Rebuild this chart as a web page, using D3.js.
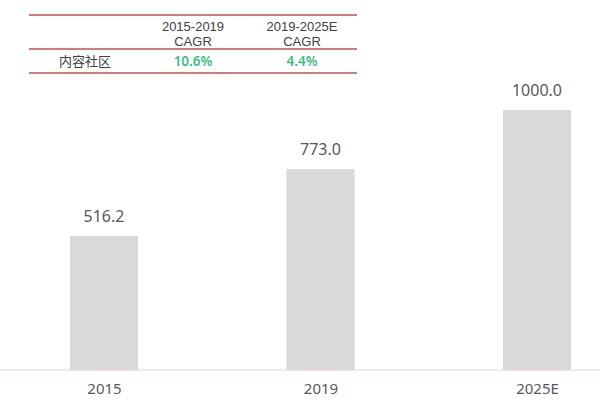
<!DOCTYPE html>
<html><head><meta charset="utf-8">
<script src="https://cdn.jsdelivr.net/npm/d3@7"></script>
<style>body{margin:0;background:#fff;}svg{display:block;font-family:"Noto Sans","Noto Sans CJK SC",sans-serif;}</style>
</head><body>
<svg id="c" width="600" height="400"></svg>
<script>
const categories = ["2015", "2019", "2025E"];
const values = [516.2, 773.0, 1000.0];
const tableHeaders = ["2015-2019\nCAGR", "2019-2025E\nCAGR"];
const rowLabel = ["内容社区"];
const cagrValues = ["10.6%", "4.4%"];

const svg = d3.select("#c");
const x = d3.scalePoint().domain(categories).range([104, 537]);
const y = d3.scaleLinear().domain([0, 1000]).range([370, 110]);
const bw = 68;

svg.selectAll("rect.bar").data(values).join("rect")
  .attr("x", (d,i) => x(categories[i]) - bw/2)
  .attr("y", d => y(d))
  .attr("width", bw)
  .attr("height", d => y(0) - y(d))
  .attr("fill", "#d9d9d9");

svg.selectAll("text.val").data(values).join("text")
  .attr("x", (d,i) => x(categories[i]))
  .attr("y", d => y(d) - 14)
  .attr("text-anchor", "middle")
  .attr("font-size", 16)
  .attr("fill", "#595959")
  .text(d => d3.format(".1f")(d));

const axis = svg.append("g").attr("transform", `translate(0,${y(0)})`)
  .call(d3.axisBottom(x).tickSize(0).tickPadding(13));
axis.select(".domain").remove();
axis.append("line").attr("x1", 0).attr("x2", 600).attr("stroke", "#f2d0d0").attr("stroke-width", 1.2);
axis.selectAll(".tick text").attr("font-size", 15).attr("fill", "#595959")
  .attr("font-family", "'Noto Sans',sans-serif");

// table
const lineColor = "#c0504d";
[15, 49, 73].forEach(yy => {
  svg.append("line").attr("x1", 29).attr("x2", 357).attr("y1", yy).attr("y2", yy)
    .attr("stroke", lineColor).attr("stroke-width", 1.5);
});
const colX = [193, 302];
tableHeaders.forEach((h, i) => {
  const lines = h.split("\n");
  lines.forEach((l, j) => {
    svg.append("text").attr("x", colX[i]).attr("y", 31 + j*14.5)
      .attr("text-anchor", "middle").attr("font-size", 13)
      .attr("font-family", "'Liberation Sans',sans-serif")
      .attr("fill", "#404040").text(l);
  });
});
svg.append("text").attr("x", 85).attr("y", 66).attr("text-anchor", "middle")
  .attr("font-size", 13).attr("fill", "#404040").text(rowLabel[0]);
cagrValues.forEach((v, i) => {
  svg.append("text").attr("x", colX[i]).attr("y", 66).attr("text-anchor", "middle")
    .attr("font-size", 13.5).attr("font-weight", 600).attr("fill", "#3dbb85").text(v);
});
</script>
</body></html>
